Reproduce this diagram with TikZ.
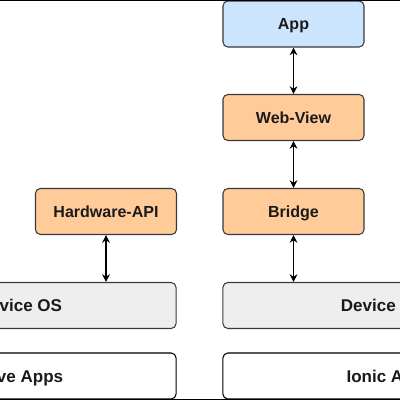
\documentclass[tikz,border=0pt]{standalone}
\usepackage{fontspec}
\setmainfont{Liberation Sans}
\usetikzlibrary{arrows.meta}
\definecolor{edge}{HTML}{36393D}
\definecolor{ink}{HTML}{1A1A1A}
\definecolor{appblue}{HTML}{CCE5FF}
\definecolor{peach}{HTML}{FFCC99}
\definecolor{shell}{HTML}{EEEEEE}
\tikzset{
  blk/.style={draw=edge, line width=0.75pt, rounded corners=3.5pt, text=ink,
    minimum height=1.15cm, inner sep=0pt, text depth=0pt},
  app/.style={blk, fill=appblue, minimum width=3.525cm, font=\fontsize{11.4}{13}\selectfont\bfseries},
  core/.style={blk, fill=peach, minimum width=3.525cm, font=\fontsize{11.4}{13}\selectfont\bfseries},
  os/.style={blk, fill=shell, font=\fontsize{12.1}{14}\selectfont\bfseries},
  host/.style={blk, draw=black, fill=white, font=\fontsize{12.1}{14}\selectfont\bfseries},
  link/.style={draw=black, line width=0.75pt, {Stealth[length=5.5pt,width=5.5pt]}-{Stealth[length=5.5pt,width=5.5pt]}}
}

\begin{document}
\begin{tikzpicture}[x=0.025cm, y=-0.025cm]
\useasboundingbox (0,0) rectangle (400,400);
\clip (0,0) rectangle (400,400);
% ionic side
\node[app] (app) at (293.5,24) {App};
\node[core] (web) at (293.5,117.5) {Web-View};
\node[core] (bridge) at (293.5,211.5) {Bridge};
\node[os, minimum width=8cm] (osr) at (383,305.5) {Device OS};
\node[host, minimum width=8.35cm] (ionic) at (390,376) {Ionic Apps};
% native side
\node[core] (hw) at (106,211.5) {Hardware-API};
\node[os, minimum width=7.8cm] (osl) at (20,305.5) {Device OS};
\node[host, minimum width=8.1cm] (native) at (14,376) {Native Apps};
\draw[link] (app) -- (web);
\draw[link] (web) -- (bridge);
\draw[link] (bridge.south) -- (bridge.south |- osr.north);
\draw[link] (hw.south) -- (hw.south |- osl.north);
% frame
\draw[black, line width=0.75pt] (0,0.5) -- (400,0.5);
\draw[black, line width=0.75pt] (0,399.3) -- (400,399.3);
\end{tikzpicture}
\end{document}
